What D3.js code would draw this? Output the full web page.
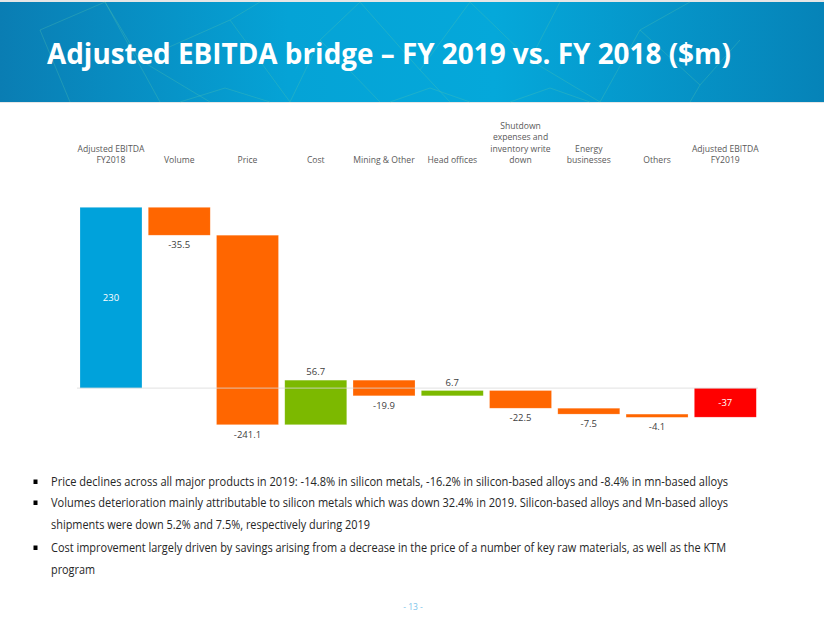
<!DOCTYPE html>
<html>
<head>
<meta charset="utf-8">
<script src="https://cdn.jsdelivr.net/npm/d3@7"></script>
<style>
  html, body { margin: 0; padding: 0; background: #fff; }
  svg { display: block; }
</style>
</head>
<body>
<svg id="chart" width="824" height="637"></svg>
<script>
// ---------------- data ----------------
const titleText = "Adjusted EBITDA bridge \u2013 FY 2019 vs. FY 2018 ($m)";
const categories = [
  ["Adjusted EBITDA", "FY2018"],
  ["Volume"],
  ["Price"],
  ["Cost"],
  ["Mining & Other"],
  ["Head offices"],
  ["Shutdown", "expenses and", "inventory write", "down"],
  ["Energy", "businesses"],
  ["Others"],
  ["Adjusted EBITDA", "FY2019"]
];
const values = [230, -35.5, -241.1, 56.7, -19.9, 6.7, -22.5, -7.5, -4.1, -37];
const barTypes = ["start", "delta", "delta", "delta", "delta", "delta", "delta", "delta", "delta", "end"];
const valueLabels = ["230", "-35.5", "-241.1", "56.7", "-19.9", "6.7", "-22.5", "-7.5", "-4.1", "-37"];
const bulletLines = [
  { text: "Price declines across all major products in 2019:  -14.8%  in silicon metals, -16.2% in silicon-based alloys and -8.4% in mn-based alloys", bullet: true },
  { text: "Volumes deterioration mainly attributable to silicon metals which was down 32.4% in 2019.  Silicon-based alloys and Mn-based alloys", bullet: true },
  { text: "shipments were down 5.2% and 7.5%, respectively during 2019", bullet: false },
  { text: "Cost improvement largely driven by savings arising from a decrease in the price of a number of key raw materials, as well as the KTM", bullet: true },
  { text: "program", bullet: false }
];
const pageNumber = "- 13 -";

// ---------------- layout ----------------
const svg = d3.select("#chart");
const W = 824;

// header band
const defs = svg.append("defs");
const grad = defs.append("linearGradient").attr("id", "hdr").attr("x1", "0").attr("x2", "1").attr("y1", "0").attr("y2", "0");
grad.append("stop").attr("offset", "0%").attr("stop-color", "#0A7DB3");
grad.append("stop").attr("offset", "35%").attr("stop-color", "#05A3D6");
grad.append("stop").attr("offset", "60%").attr("stop-color", "#05A8DA");
grad.append("stop").attr("offset", "100%").attr("stop-color", "#0683B8");
svg.append("rect").attr("x", 0).attr("y", 0).attr("width", W).attr("height", 103).attr("fill", "#e6e6e6");
svg.append("rect").attr("x", 0).attr("y", 2).attr("width", W).attr("height", 100).attr("fill", "url(#hdr)");

// faint network pattern (decoration)
const net = [
  [[105,2],[160,102]], [[105,2],[140,60]], [[140,60],[210,102]], [[140,60],[230,20]],
  [[230,20],[260,2]], [[230,20],[290,102]], [[290,102],[320,40]], [[320,40],[360,2]],
  [[320,40],[380,102]], [[360,2],[420,70]], [[420,70],[470,2]], [[420,70],[450,102]],
  [[470,2],[530,60]], [[530,60],[560,2]], [[530,60],[600,102]], [[600,102],[640,30]],
  [[640,30],[690,2]], [[640,30],[700,85]], [[700,85],[740,40]], [[700,85],[690,102]],
  [[180,102],[225,88]], [[225,88],[270,102]], [[390,102],[430,88]], [[430,88],[470,102]],
  [[510,102],[550,88]], [[550,88],[590,102]], [[40,30],[105,2]], [[40,30],[70,102]]
];
svg.append("g").selectAll("line").data(net).join("line")
  .attr("x1", d => d[0][0]).attr("y1", d => d[0][1])
  .attr("x2", d => d[1][0]).attr("y2", d => d[1][1])
  .attr("stroke", "#5cc8a8").attr("stroke-opacity", 0.28).attr("stroke-width", 1);

// title
const title = svg.append("text")
  .attr("x", 47).attr("y", 64)
  .attr("fill", "#ffffff")
  .attr("font-family", "'Open Sans', 'Noto Sans', sans-serif")
  .attr("font-weight", 700)
  .attr("font-size", 30)
  .text(titleText);
(function fitTitle() {
  const target = 684;
  const w = title.node().getComputedTextLength();
  title.attr("font-size", 30 * target / w);
})();

// scales
const x = d3.scaleBand()
  .domain(d3.range(categories.length))
  .range([80, 756.3])
  .paddingInner(0.092)
  .paddingOuter(0);
const y = d3.scaleLinear().domain([-50, 230]).range([427.4, 207.3]);

// waterfall computation
let running = 0;
const bars = values.map((v, i) => {
  let y0, y1;
  if (barTypes[i] === "start") { y0 = 0; y1 = v; running = v; }
  else if (barTypes[i] === "end") { y0 = 0; y1 = v; }
  else { y0 = running; y1 = running + v; running = y1; }
  let color;
  if (barTypes[i] === "start") color = "#00A2DB";
  else if (barTypes[i] === "end") color = "#FF0000";
  else color = v >= 0 ? "#7CB900" : "#FF6600";
  return { i, v, y0, y1, type: barTypes[i], color, label: valueLabels[i] };
});

const gBars = svg.append("g");
gBars.selectAll("rect").data(bars).join("rect")
  .attr("x", d => x(d.i))
  .attr("width", x.bandwidth())
  .attr("y", d => y(Math.max(d.y0, d.y1)))
  .attr("height", d => Math.abs(y(d.y0) - y(d.y1)))
  .attr("fill", d => d.color)
  .attr("stroke", "#ffffff").attr("stroke-opacity", 0.35).attr("stroke-width", 0.6);

// zero line
svg.append("line")
  .attr("x1", 77).attr("x2", 758)
  .attr("y1", y(0)).attr("y2", y(0))
  .attr("stroke", "#d9d9d9").attr("stroke-opacity", 0.8).attr("stroke-width", 1);

// value labels
svg.append("g").selectAll("text").data(bars).join("text")
  .attr("x", d => x(d.i) + x.bandwidth() / 2)
  .attr("y", d => {
    if (d.type !== "delta") return (y(d.y0) + y(d.y1)) / 2 + 3.5;
    if (d.v >= 0) return y(Math.max(d.y0, d.y1)) - 5;
    return y(Math.min(d.y0, d.y1)) + 13;
  })
  .attr("text-anchor", "middle")
  .attr("font-family", "'Open Sans', 'Liberation Sans', sans-serif")
  .attr("font-size", 9.5)
  .attr("fill", d => d.type === "delta" ? "#404040" : "#ffffff")
  .text(d => d.label);

// category labels
const catG = svg.append("g")
  .attr("font-family", "'Open Sans', 'Liberation Sans', sans-serif")
  .attr("font-size", 8.6)
  .attr("fill", "#595959")
  .attr("text-anchor", "middle");
const lineH = 11.4;
const lastBase = 163;
categories.forEach((lines, i) => {
  const t = catG.append("text");
  lines.forEach((ln, j) => {
    t.append("tspan")
      .attr("x", x(i) + x.bandwidth() / 2)
      .attr("y", lastBase - (lines.length - 1 - j) * lineH)
      .text(ln);
  });
});

// bullet text
const bulletTargets = [677, 677, 319, 675, 44];
const bulletY = [486, 507, 529, 552, 574];
const bg = svg.append("g")
  .attr("font-family", "'Open Sans', 'Liberation Sans', sans-serif")
  .attr("font-size", 12)
  .attr("fill", "#262626");
bulletLines.forEach((b, i) => {
  const t = bg.append("text").attr("x", 51).attr("y", bulletY[i]).text(b.text);
  const w = t.node().getComputedTextLength();
  if (Math.abs(w - bulletTargets[i]) > 1) {
    t.attr("textLength", bulletTargets[i]).attr("lengthAdjust", "spacingAndGlyphs");
  }
  if (b.bullet) {
    bg.append("rect").attr("x", 33.5).attr("y", bulletY[i] - 6.5).attr("width", 4).attr("height", 4.5).attr("fill", "#000");
  }
});

// page number
svg.append("text")
  .attr("x", 413).attr("y", 610)
  .attr("text-anchor", "middle")
  .attr("font-family", "'Open Sans', 'Liberation Sans', sans-serif")
  .attr("font-size", 8.5)
  .attr("fill", "#7cc4ea")
  .text(pageNumber);
</script>
</body>
</html>
